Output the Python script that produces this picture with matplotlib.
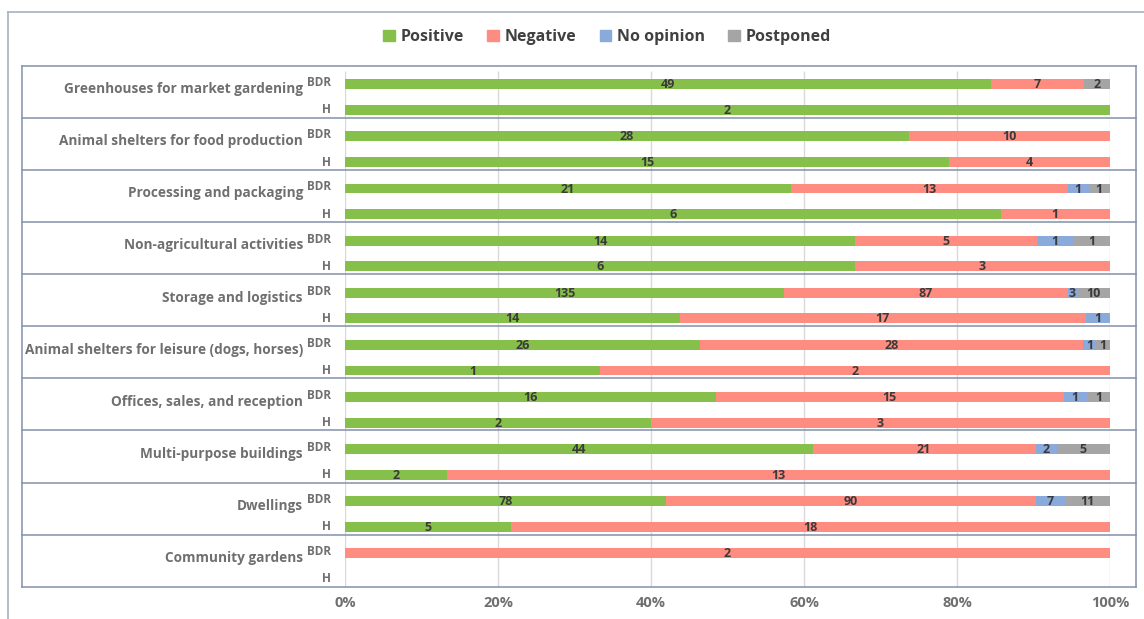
import numpy as np
import matplotlib.pyplot as plt
from matplotlib.patches import Patch
from matplotlib.lines import Line2D

plt.rcParams['font.family'] = ['Open Sans', 'DejaVu Sans']

# data (counts per answer, BDR row then H row)
categories = ["Greenhouses for market gardening", "Animal shelters for food production",
              "Processing and packaging", "Non-agricultural activities", "Storage and logistics",
              "Animal shelters for leisure (dogs, horses)", "Offices, sales, and reception",
              "Multi-purpose buildings", "Dwellings", "Community gardens"]
sub_rows = ["BDR", "H"]
answers = ["Positive", "Negative", "No opinion", "Postponed"]

positive_bdr = [49, 28, 21, 14, 135, 26, 16, 44, 78, 0]
negative_bdr = [7, 10, 13, 5, 87, 28, 15, 21, 90, 2]
noopinion_bdr = [0, 0, 1, 1, 3, 1, 1, 2, 7, 0]
postponed_bdr = [2, 0, 1, 1, 10, 1, 1, 5, 11, 0]

positive_h = [2, 15, 6, 6, 14, 1, 2, 2, 5, 0]
negative_h = [0, 4, 1, 3, 17, 2, 3, 13, 18, 0]
noopinion_h = [0, 0, 0, 0, 1, 0, 0, 0, 0, 0]
postponed_h = [0, 0, 0, 0, 0, 0, 0, 0, 0, 0]

colors = ["#86C04A", "#FF8C80", "#8AAADC", "#A5A5A5"]
label_grey = "#6F6F6F"
line_col = "#8391A8"

W, H = 1144, 619
fig = plt.figure(figsize=(W / 100, H / 100), dpi=100)
ax = fig.add_axes([345 / W, 1 - 586.7 / H, 765 / W, 521 / H])

bdr = np.array([positive_bdr, negative_bdr, noopinion_bdr, postponed_bdr], dtype=float)
hh = np.array([positive_h, negative_h, noopinion_h, postponed_h], dtype=float)

ypos = {"BDR": 0.357, "H": 0.85}
bar_h = 0.19

for r, (name, arr) in enumerate([("BDR", bdr), ("H", hh)]):
    totals = arr.sum(axis=0)
    y = np.arange(len(categories)) + ypos[name]
    left = np.zeros(len(categories))
    for k in range(len(answers)):
        frac = np.where(totals > 0, arr[k] / np.where(totals > 0, totals, 1), 0)
        ax.barh(y, frac, left=left, height=bar_h, color=colors[k], zorder=3)
        for i in range(len(categories)):
            if arr[k, i] > 0:
                ax.text(left[i] + frac[i] / 2, y[i] + 0.01, f"{int(arr[k, i])}",
                        ha="center", va="center", fontsize=9, fontweight="bold",
                        color="#3A3A3A", zorder=4)
        left = left + frac

ax.set_xlim(0, 1)
ax.set_ylim(len(categories), 0)

# vertical gridlines
ax.vlines(np.arange(0, 1.01, 0.2), 0.11, len(categories), color="#D9D9D9", lw=1, zorder=1)

for s in ax.spines.values():
    s.set_visible(False)
ax.set_yticks([])
ax.set_xticks(np.arange(0, 1.01, 0.2))
ax.set_xticklabels([f"{int(v * 100)}%" for v in np.arange(0, 1.01, 0.2)],
                   fontsize=10.5, fontweight="bold", color=label_grey)
ax.tick_params(axis="x", length=0, pad=7)

# table lines
x0, x1 = (22 - 345) / 765, (1136 - 345) / 765
for i in range(len(categories) + 1):
    ax.plot([x0, x1], [i, i], color=line_col, lw=1.1, clip_on=False, zorder=2)
ax.plot([x0, x0], [0, len(categories)], color=line_col, lw=1.1, clip_on=False)
ax.plot([x1, x1], [0, len(categories)], color=line_col, lw=1.1, clip_on=False)

# labels
lx = (303 - 345) / 765
sx = (331 - 345) / 765
for i, cat in enumerate(categories):
    ax.text(lx, i + 0.45, cat, ha="right", va="center", fontsize=9.8,
            fontweight="bold", color=label_grey)
    ax.text(sx, i + ypos["BDR"] - 0.03, "BDR", ha="right", va="center", fontsize=8.5,
            fontweight="bold", color=label_grey)
    ax.text(sx, i + ypos["H"], "H", ha="right", va="center", fontsize=8.5,
            fontweight="bold", color=label_grey)

# legend
handles = [Patch(color=c, label=a) for c, a in zip(colors, answers)]
leg = fig.legend(handles=handles, loc="center", bbox_to_anchor=(607 / W, 1 - 37 / H),
                 ncol=4, frameon=False, fontsize=11.5, handlelength=0.75, handleheight=0.75,
                 handletextpad=0.35, columnspacing=1.45)
for t in leg.get_texts():
    t.set_fontweight("bold")
    t.set_color("#404040")

# outer frame
fig.add_artist(Line2D([7.5 / W, 7.5 / W], [0, 1 - 12 / H], color="#A8B2C2", lw=1.2))
fig.add_artist(Line2D([7.5 / W, 1], [1 - 12 / H, 1 - 12 / H], color="#A8B2C2", lw=1.2))

fig.savefig("out.png", dpi=100)
